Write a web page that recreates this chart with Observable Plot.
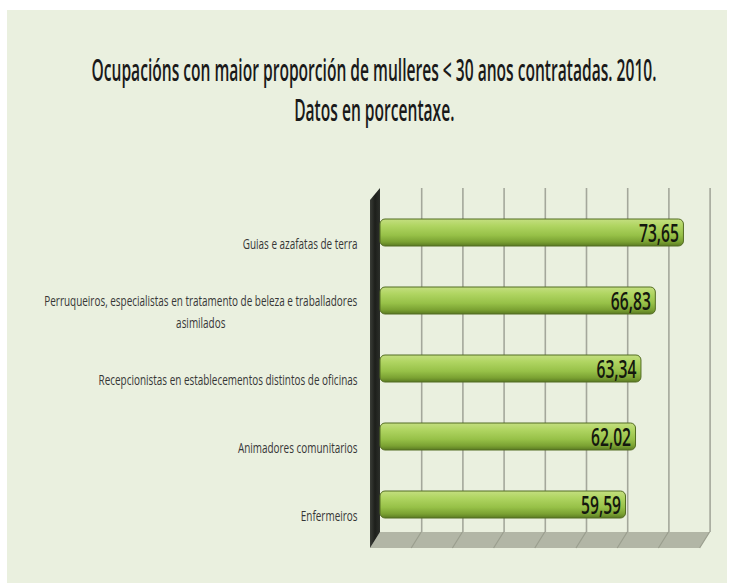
<!DOCTYPE html>
<html><head><meta charset="utf-8">
<script src="https://cdn.jsdelivr.net/npm/d3@7"></script>
<script src="https://cdn.jsdelivr.net/npm/@observablehq/plot@0.6"></script>
<style>
html,body{margin:0;padding:0;background:#fff;width:732px;height:583px;overflow:hidden;}
#panel{position:absolute;left:7px;top:10px;width:720px;height:573px;background:#eaf0df;}
.title{position:absolute;left:0;width:732px;height:34px;font-family:"Open Sans";font-weight:600;font-size:30px;line-height:34px;color:#1a1a1a;white-space:nowrap;}
.title span{position:absolute;top:0;display:inline-block;transform-origin:50% 50%;}
#chart{position:absolute;left:0;top:150px;}
</style></head><body>
<div id="panel"></div>
<div class="title" style="top:53px"><span id="t1"></span></div>
<div class="title" style="top:93px"><span id="t2"></span></div>
<div id="chart"></div>
<script>
const titleLine1 = "Ocupacións con maior proporción de mulleres < 30 anos contratadas. 2010.";
const titleLine2 = "Datos en porcentaxe.";
const categories = [
  "Guias e azafatas de terra",
  "Perruqueiros, especialistas en tratamento de beleza e traballadores asimilados",
  "Recepcionistas en establecementos distintos de oficinas",
  "Animadores comunitarios",
  "Enfermeiros"
];
const values = [73.65, 66.83, 63.34, 62.02, 59.59];
const gridTicks = [10, 20, 30, 40, 50, 60, 70, 80];

const data = categories.map((c, i) => ({cat: c, value: values[i]}));

// title (condensed like the reference, centred at x = 374)
const t1 = document.getElementById("t1"), t2 = document.getElementById("t2");
t1.textContent = titleLine1; t2.textContent = titleLine2;
const w1 = t1.getBoundingClientRect().width, w2 = t2.getBoundingClientRect().width;
const kTitle = 565 / w1, cx = 374;
t1.style.left = (cx - w1 / 2) + "px";
t2.style.left = (cx - w2 / 2) + "px";
t1.style.transform = `scaleX(${kTitle})`;
t2.style.transform = `scaleX(${kTitle})`;

const W = 732, H = 420, mL = 380, mR = 22.4, mT = 38, mB = 38;
const plot = Plot.plot({
  width: W, height: H,
  marginLeft: mL, marginRight: mR, marginTop: mT, marginBottom: mB,
  style: {background: "transparent", fontFamily: "Open Sans", overflow: "visible"},
  x: {domain: [0, 80], axis: null},
  y: {domain: categories, range: [47.5, 389], paddingInner: 0.6, paddingOuter: 0.3, axis: null},
  marks: [
    Plot.ruleX(gridTicks, {x: d => d, stroke: "#a4a79b", strokeWidth: 1.6}),
    Plot.barX(data, {x: "value", y: "cat", fill: "url(#barGrad)", stroke: "#536c22", strokeWidth: 1, rx: 5}),
    Plot.text(data, {x: "value", y: "cat", text: d => d.value.toFixed(2).replace(".", ","), textAnchor: "end", dx: -5, dy: 1, fontSize: 26, fontWeight: 600, fill: "#14180e"}),
    Plot.text(data, {y: "cat", text: "cat", frameAnchor: "left", textAnchor: "end", dx: -23, dy: 9, fontSize: 14, lineWidth: 37, lineHeight: 1.6, fill: "#363636"})
  ]
});
document.getElementById("chart").appendChild(plot);

const svg = d3.select(plot);
// gradients
const defs = svg.append("defs");
const bg = defs.append("linearGradient").attr("id", "barGrad").attr("x1", 0).attr("y1", 0).attr("x2", 0).attr("y2", 1);
[[0, "#c4df80"], [0.25, "#b0d562"], [0.6, "#97c148"], [0.85, "#7aa132"], [1, "#5a7a22"]].forEach(([o, c]) => bg.append("stop").attr("offset", o).attr("stop-color", c));
const wg = defs.append("linearGradient").attr("id", "wallGrad").attr("x1", 0).attr("y1", 0).attr("x2", 1).attr("y2", 0);
[[0, "#3a3d37"], [0.5, "#1d1f1b"], [1, "#2c2f2a"]].forEach(([o, c]) => wg.append("stop").attr("offset", o).attr("stop-color", c));

// 3D wall and floor, positioned with the plot's own x scale
const xs = plot.scale("x");
const x0 = xs.apply(0), x80 = xs.apply(80);
const frameTop = mT, frameBot = H - mB, dX = 10, dY = 16;
const pts = a => a.map(p => p.join(",")).join(" ");
const deco = svg.insert("g", "g");
deco.append("polygon")
  .attr("points", pts([[x0, frameBot], [x80, frameBot], [x80 - dX, frameBot + dY], [x0 - dX, frameBot + dY]]))
  .attr("fill", "#b2b6a6");
gridTicks.forEach(t => {
  const xt = xs.apply(t);
  deco.append("line").attr("x1", xt).attr("y1", frameBot).attr("x2", xt - dX).attr("y2", frameBot + dY)
    .attr("stroke", "#9a9e8e").attr("stroke-width", 1.2);
});
deco.append("polygon")
  .attr("points", pts([[x0, frameTop], [x0, frameBot], [x0 - dX, frameBot + dY], [x0 - dX, frameTop + 12]]))
  .attr("fill", "url(#wallGrad)");

// condense the text like the reference; wrapped labels are centred within their block
const textGroups = svg.selectAll("g[aria-label='text']").nodes();
function condense(group, sample, target) {
  const texts = d3.select(group).selectAll("text").nodes();
  const ref = texts.find(t => t.textContent === sample) || texts[0];
  const k = target / ref.getComputedTextLength();
  texts.forEach(t => {
    let tr = (t.getAttribute("transform") || "") + ` scale(${k},1)`;
    const spans = t.querySelectorAll("tspan");
    if (spans.length > 1) {
      const Lu = Math.max(...Array.from(spans, s => s.getComputedTextLength()));
      t.setAttribute("text-anchor", "middle");
      tr += ` translate(${-Lu / 2},0)`;
    }
    t.setAttribute("transform", tr);
  });
}
condense(textGroups[0], "73,65", 40);
condense(textGroups[1], categories[0], 115);
</script>
</body></html>
